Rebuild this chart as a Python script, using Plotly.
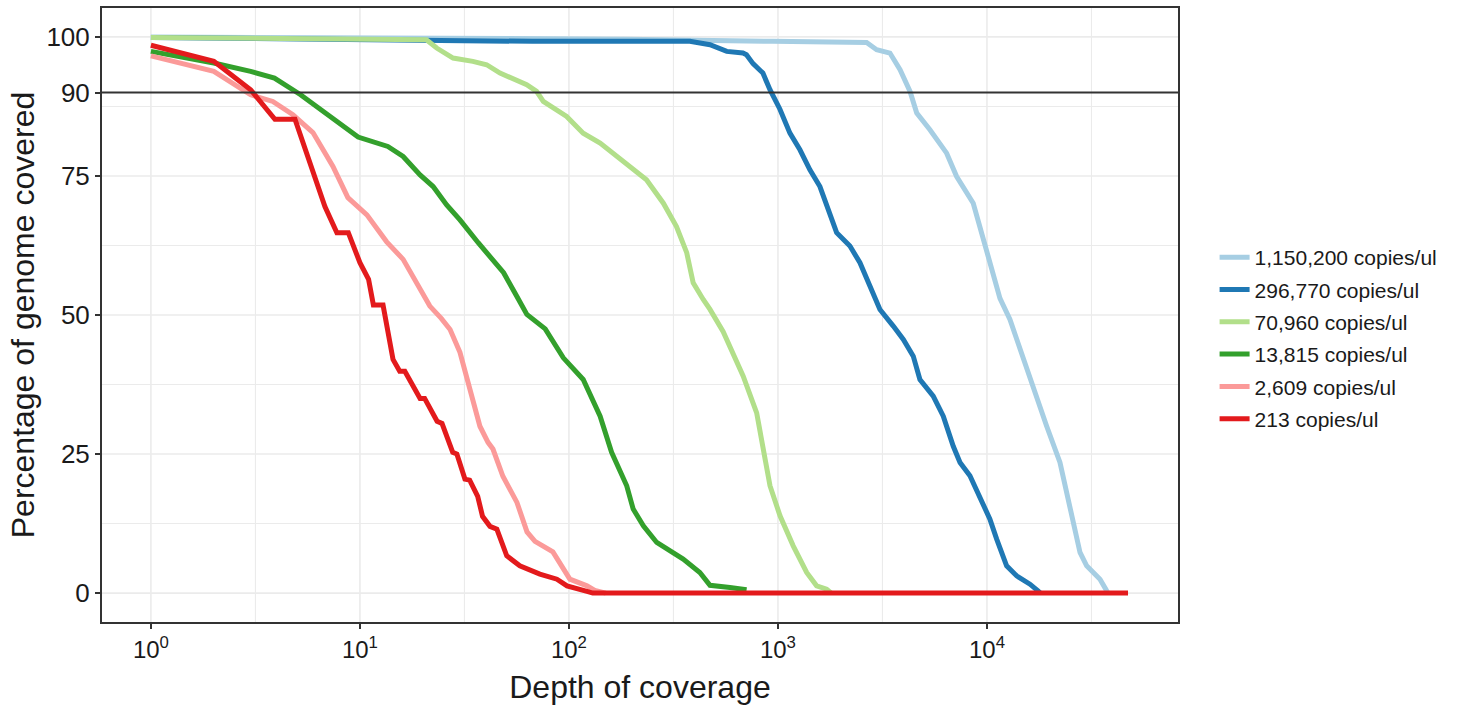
import plotly.graph_objects as go
import numpy as np

# ---------------- data ----------------
series_names = ["1,150,200 copies/ul", "296,770 copies/ul", "70,960 copies/ul",
                "13,815 copies/ul", "2,609 copies/ul", "213 copies/ul"]
series_colors = ["#A6CEE3", "#1F78B4", "#B2DF8A", "#33A02C", "#FB9A99", "#E31A1C"]

depth_1150200 = [1, 190, 946, 2656, 2966, 3434, 3839, 4285, 4613, 5335, 6413, 7161, 8597, 9598,
                 10710, 11540, 12880, 13870, 16660, 19310, 22350, 24950, 27870, 29990, 34740, 37410, 38000]
pct_1150200 = [100, 99.6, 99.2, 99.0, 97.7, 97.1, 94.1, 90.2, 86.3, 83.3, 79.1, 74.9, 70.1, 63.6,
               57.6, 53.0, 49.2, 45.6, 37.2, 30.0, 23.5, 15.7, 7.3, 4.9, 2.5, 0.4, 0]

depth_296770 = [1, 67, 379, 473, 569, 680, 707, 760, 847, 916, 1022, 1141, 1274, 1422, 1588, 1774,
                1909, 2210, 2468, 2754, 3076, 3563, 3980, 4440, 4778, 5534, 6180, 6900, 7430, 8290,
                9260, 10330, 11130, 12420, 13870, 16060, 17540, 18000]
pct_296770 = [99.9, 99.2, 99.2, 98.6, 97.4, 97.1, 96.8, 95.2, 93.5, 90.5, 87.0, 82.7, 79.7, 76.1,
              73.1, 68.4, 64.8, 62.4, 59.4, 55.2, 51.0, 48.0, 45.6, 42.6, 38.4, 35.4, 31.8, 26.4,
              23.5, 21.1, 16.9, 13.3, 9.7, 4.9, 3.1, 1.6, 0.4, 0]

depth_70960 = [1, 17.9, 20.8, 23.3, 27.9, 34.7, 40.4, 46.8, 53.9, 62.8, 70, 75.4, 97.5, 117, 141,
               163, 196, 235, 283, 327, 366, 393, 439, 473, 547, 682, 791, 851, 916, 1023, 1183,
               1372, 1531, 1710, 1800]
pct_70960 = [99.9, 99.5, 99.5, 98.0, 96.2, 95.6, 95.0, 93.5, 92.6, 91.4, 90.2, 88.4, 85.7, 82.7,
             80.9, 79.1, 76.7, 74.3, 70.1, 65.9, 61.2, 55.8, 52.8, 51.0, 47.0, 39.0, 32.4, 25.9,
             19.3, 13.9, 8.5, 3.7, 1.3, 0.7, 0]

depth_13815 = [1, 2, 3, 3.9, 5.2, 6.9, 8.3, 9.8, 13.6, 16.1, 19.4, 22.4, 26, 30.1, 36.8, 41.9, 48.7,
               56.2, 62.9, 77, 94, 117, 141, 160, 189, 203, 227, 263, 352, 423, 473, 589, 708]
pct_13815 = [97.4, 95.3, 93.8, 92.6, 89.6, 86.3, 84.2, 82.0, 80.3, 78.5, 75.2, 73.1, 69.8, 67.1,
             63.0, 60.6, 57.6, 53.4, 50.1, 47.5, 42.3, 38.4, 31.8, 25.3, 19.3, 15.1, 12.1, 9.1,
             6.1, 3.7, 1.4, 1.0, 0.6]

depth_2609 = [1, 2, 3, 3.83, 4.78, 5.96, 7.43, 8.76, 10.8, 13.4, 16.1, 18.7, 21.6, 24.5, 27, 30.1,
              32.9, 37.5, 41, 43.3, 48.3, 56.4, 63, 68.8, 83.8, 92.6, 101, 122, 133, 150]
pct_2609 = [96.6, 93.8, 89.6, 88.4, 86.0, 82.8, 76.7, 71.1, 68.0, 63.2, 60.0, 55.8, 51.6, 49.4,
            47.4, 43.3, 37.9, 30.0, 27.1, 25.9, 21.0, 16.3, 11.0, 9.3, 7.4, 4.9, 2.5, 1.3, 0.5, 0]

depth_213 = [1, 2, 3, 3.92, 4.89, 6.8, 7.76, 8.8, 10, 11, 11.6, 12.9, 14.4, 15.5, 16.4, 19.4, 20.4,
             23.4, 24.7, 27.8, 29.1, 31.8, 33.5, 36.6, 38.6, 41.9, 45.2, 50.4, 58.2, 72.6, 87.6,
             97.9, 122, 130, 47300]
pct_213 = [98.5, 95.6, 90.5, 85.2, 85.2, 69.5, 64.8, 64.8, 59.4, 56.4, 51.8, 51.8, 42.0, 39.9,
           39.9, 35.0, 35.0, 30.9, 30.5, 25.3, 25.0, 20.5, 20.3, 17.4, 13.8, 12.0, 11.5, 6.7, 4.9,
           3.4, 2.5, 1.3, 0.3, 0, 0]

x_tickvals = [1, 10, 100, 1000, 10000]
x_ticktext = ["10<sup>0</sup>", "10<sup>1</sup>", "10<sup>2</sup>", "10<sup>3</sup>", "10<sup>4</sup>"]
x_minorvals = [10 ** 0.5, 10 ** 1.5, 10 ** 2.5, 10 ** 3.5, 10 ** 4.5]
y_tickvals = [0, 25, 50, 75, 90, 100]
y_gridvals = [0, 25, 50, 75, 100]
y_minorvals = [12.5, 37.5, 62.5, 87.5]
threshold = 90

depths = [depth_1150200, depth_296770, depth_70960, depth_13815, depth_2609, depth_213]
pcts = [pct_1150200, pct_296770, pct_70960, pct_13815, pct_2609, pct_213]

FONT = "Liberation Sans, Arial, Helvetica, sans-serif"
GRID = "#EBEBEB"
AX = "#333333"
TXT = "#1a1a1a"

fig = go.Figure()

for v in y_gridvals + y_minorvals:
    fig.add_shape(type="line", xref="paper", x0=0, x1=1, yref="y", y0=v, y1=v,
                  line=dict(color=GRID, width=1.6 if v in y_gridvals else 1.1), layer="below")
for v in x_tickvals + x_minorvals:
    fig.add_shape(type="line", yref="paper", y0=0, y1=1, xref="x", x0=v, x1=v,
                  line=dict(color=GRID, width=1.6 if v in x_tickvals else 1.1), layer="below")

for i, (name, col, d, p) in enumerate(zip(series_names, series_colors, depths, pcts)):
    fig.add_trace(go.Scatter(x=d, y=p, mode="lines", name=name, legendgroup=f"g{i}",
                             line=dict(color=col, width=5)))

fig.add_shape(type="line", xref="paper", x0=0, x1=1, yref="y", y0=threshold, y1=threshold,
              line=dict(color=AX, width=2), layer="above")

fig.update_layout(
    width=1457, height=706,
    margin=dict(l=102, r=279, t=8, b=84, autoexpand=False),
    paper_bgcolor="white", plot_bgcolor="white",
    font=dict(family=FONT, color=TXT),
    showlegend=True,
    legend=dict(x=1.034, xanchor="left", y=0.4625, yanchor="middle",
                font=dict(size=21, family=FONT, color=TXT),
                tracegroupgap=2, traceorder="grouped", bgcolor="rgba(0,0,0,0)"),
    xaxis=dict(type="log", range=[-0.234, 4.914], tickvals=x_tickvals, ticktext=x_ticktext,
               showgrid=False, zeroline=False, showline=True, linecolor=AX, linewidth=2,
               mirror=True, ticks="outside", ticklen=5, tickwidth=1.5, tickcolor=AX,
               tickfont=dict(size=24, family=FONT, color=TXT),
               title=dict(text="Depth of coverage", font=dict(size=32, family=FONT, color=TXT),
                          standoff=14)),
    yaxis=dict(range=[-5.2, 105.2], tickvals=y_tickvals, showgrid=False, zeroline=False,
               showline=True, linecolor=AX, linewidth=2, mirror=True, ticks="outside",
               ticklen=5, tickwidth=1.5, tickcolor=AX,
               tickfont=dict(size=26, family=FONT, color=TXT),
               title=dict(text="Percentage of genome covered",
                          font=dict(size=32, family=FONT, color=TXT), standoff=2)),
)

fig.write_html("out.html", config={"displayModeBar": False},
               post_script="document.body.style.margin='0px';")
